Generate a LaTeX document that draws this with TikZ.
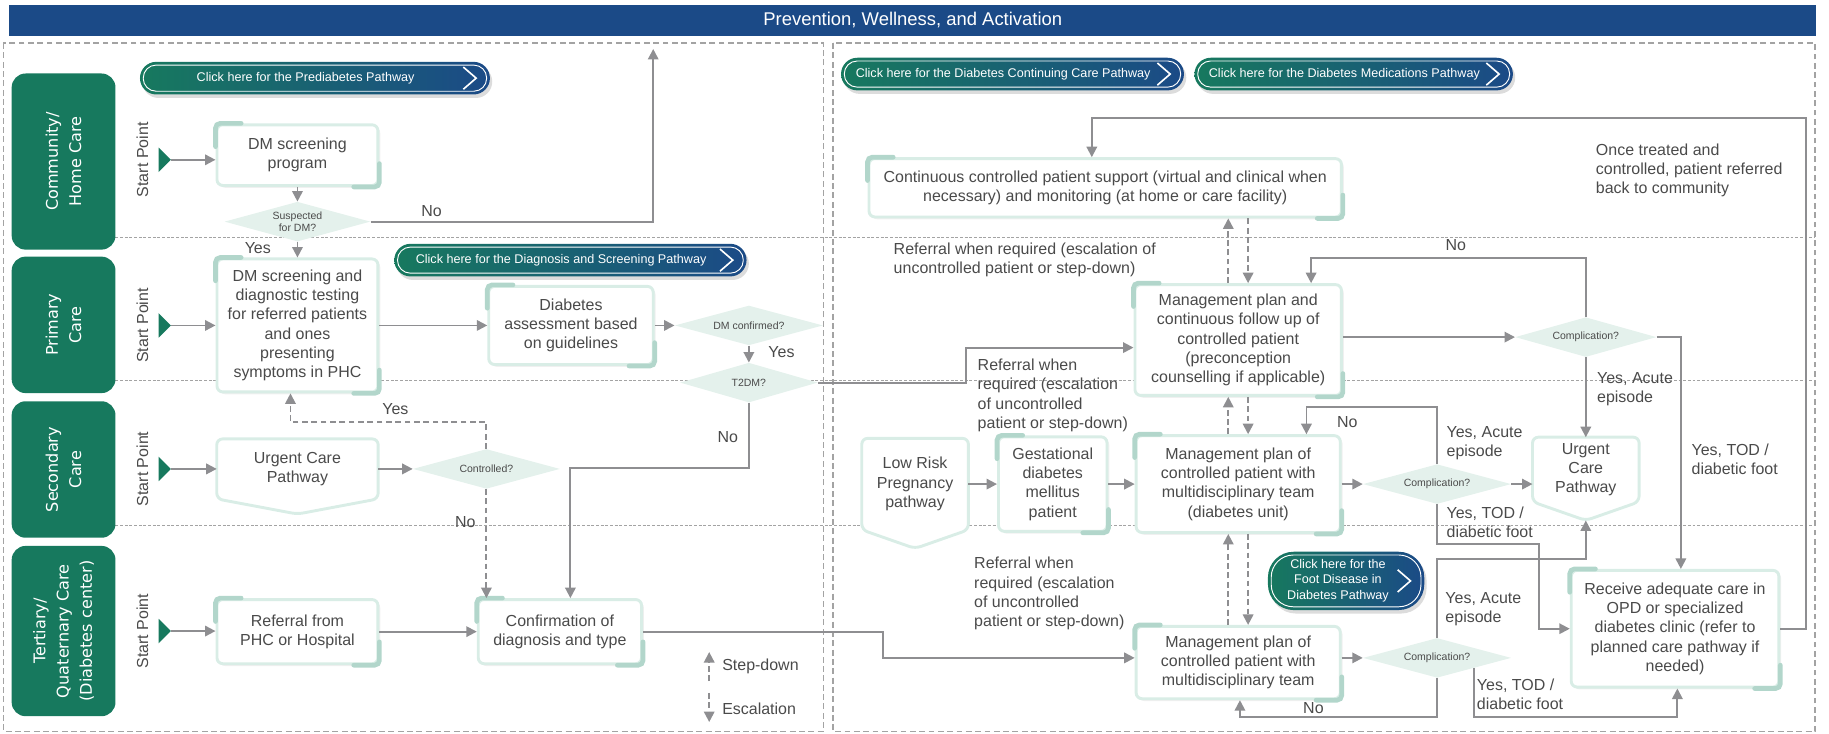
\documentclass[tikz,border=0pt]{standalone}
\usepackage{fontspec}
\setmainfont{Liberation Sans}
\newfontfamily\lanefont{DejaVu Sans}
\usetikzlibrary{shapes.geometric,arrows.meta,shadows}

\definecolor{hdrblue}{HTML}{1B4A87}
\definecolor{lanegreen}{HTML}{17795E}
\definecolor{boxedge}{HTML}{D9EDE6}
\definecolor{bracketc}{HTML}{B2D6CB}
\definecolor{dmfill}{HTML}{E4F1EC}
\definecolor{linegray}{HTML}{8E8E91}
\definecolor{txtgray}{HTML}{4A4A4A}
\definecolor{bordergray}{HTML}{A3A3A3}

\newcommand{\boxfs}{\fontsize{13.7}{16.5}\selectfont}
\newcommand{\btnfs}{\fontsize{10.8}{13}\selectfont}
\newcommand{\dmfs}{\fontsize{9}{10.5}\selectfont}
\newcommand{\lanefs}{\lanefont\fontsize{13.8}{20}\selectfont}
\newcommand{\hdrfs}{\fontsize{15.8}{18}\selectfont}

\tikzset{
  conn/.style={draw=linegray, line width=1.6pt, -{Triangle[length=9pt,width=9pt]}},
  dconn/.style={conn, dash pattern=on 5pt off 3pt},
  lanediv/.style={draw=bordergray, line width=0.8pt, dash pattern=on 2.5pt off 1.5pt},
  panel/.style={draw=bordergray, line width=1.5pt, dash pattern=on 5pt off 3pt},
  hdr/.style={fill=hdrblue, text=white, font=\hdrfs, minimum width=1549pt, minimum height=27pt},
  lane/.style={fill=lanegreen, rounded corners=12pt, rotate=90, text=white, align=center, font=\lanefs, minimum height=89pt, inner sep=0pt},
  startlbl/.style={rotate=90, text=txtgray, font=\boxfs, inner sep=0pt},
  brk/.style={draw=bracketc, line width=4pt, line cap=round, rounded corners=4pt, to path={|- (\tikztotarget)}},
  pbox/.style={draw=boxedge, line width=2.5pt, fill=white, rounded corners=5pt, align=center, text=txtgray, font=\boxfs, inner sep=2pt,
    drop shadow={opacity=0.12, shadow xshift=2pt, shadow yshift=-2pt},
    append after command={
      ([yshift=-20pt]\tikzlastnode.north west) edge[brk] ([xshift=22pt]\tikzlastnode.north west)
      ([yshift=20pt]\tikzlastnode.south east) edge[brk] ([xshift=-22pt]\tikzlastnode.south east)}},
  pent/.style={fill=white, align=center, text=txtgray, font=\boxfs, inner sep=2pt},
  pentline/.style={draw=boxedge, line width=2.5pt, rounded corners=5pt},
  dm/.style={diamond, fill=dmfill, aspect=3.6, inner sep=0pt, align=center, text=txtgray, font=\dmfs, minimum width=125pt, minimum height=34pt},
  lbl/.style={text=txtgray, font=\boxfs, align=left, inner sep=0pt},
  btn/.style={rounded corners=#1, left color=lanegreen, right color=hdrblue, text=white, font=\btnfs, align=center, minimum height=28pt,
    drop shadow={opacity=0.28, shadow xshift=2pt, shadow yshift=-3pt},
    append after command={
      ([shift={(3pt,-3pt)}]\tikzlastnode.north west) edge[draw=white, line width=0.8pt, rounded corners=#1-3pt, to path={rectangle (\tikztotarget)}] ([shift={(-3pt,3pt)}]\tikzlastnode.south east)
      ([shift={(-23pt,9.5pt)}]\tikzlastnode.east) edge[draw=white, line width=1.4pt, to path={-- ++(11pt,-9.5pt) -- (\tikztotarget)}] ([shift={(-23pt,-9.5pt)}]\tikzlastnode.east)}},
  btn/.default=14pt
}

\begin{document}
\begin{tikzpicture}[x=1pt,y=-1pt]
\useasboundingbox (0,0) rectangle (1568,629);

% Header bar
\node[hdr] (head) at (782.5,17.5) {Prevention, Wellness, and Activation};

% Dashed panels and lane dividers
\draw[panel] (3,37) rectangle (706,627);
\draw[panel] (714,37) rectangle (1556,627);
\draw[lanediv] (99,204) -- (1556,204);
\draw[lanediv] (99,326) -- (1556,326);
\draw[lanediv] (99,450.5) -- (1556,450.5);

% Lanes
\node[lane, minimum width=151pt] (laneC) at (54.5,138.5) {Community/\\Home Care};
\node[lane, minimum width=117pt] (laneP) at (54.5,278.5) {Primary\\Care};
\node[lane, minimum width=117pt] (laneS) at (54.5,402.5) {Secondary\\Care};
\node[lane, minimum width=146pt] (laneT) at (54.5,541) {Tertiary/\\Quaternary Care\\(Diabetes center)};

% Start points
\foreach \y/\i in {137/1,279/2,402/3,541/4}{
  \fill[lanegreen] (136,\y-10.5) -- (146.5,\y) -- (136,\y+10.5) -- cycle;
  \coordinate (st\i) at (146.5,\y);
  \node[startlbl] (sp\i) at (122,\y) {Start Point};
}

% Link buttons
\node[btn, minimum width=300pt] (bPre) at (270,67) {Click here for the Prediabetes Pathway\hspace*{16pt}};
\node[btn, minimum width=302pt] (bDiag) at (489,223) {Click here for the Diagnosis and Screening Pathway\hspace*{16pt}};
\node[btn, minimum width=294pt] (bCont) at (868,63.5) {Click here for the Diabetes Continuing Care Pathway\hspace*{16pt}};
\node[btn, minimum width=273pt] (bMed) at (1160.5,63.5) {Click here for the Diabetes Medications Pathway\hspace*{16pt}};
\node[btn=22pt, minimum width=134pt, minimum height=50pt] (bFoot) at (1154,498) {\begin{tabular}{@{}c@{}}Click here for the\\Foot Disease in\\Diabetes Pathway\end{tabular}\hspace*{14pt}};

% Left panel boxes
\node[pbox, minimum width=138pt, minimum height=52pt] (scr) at (255,133) {DM screening\\program};
\node[dm] (susp) at (255,190) {Suspected\\for DM?};
\node[pbox, minimum width=138pt, minimum height=114pt] (diag) at (255,279) {DM screening and\\diagnostic testing\\for referred patients\\and ones\\presenting\\symptoms in PHC};
\node[pbox, minimum width=141pt, minimum height=67pt] (assess) at (489.5,279) {Diabetes\\assessment based\\on guidelines};
\node[dm, minimum width=127pt] (dmc) at (642,279) {DM confirmed?};
\node[dm, minimum width=118pt] (t2dm) at (642,328) {T2DM?};
\node[pent, minimum width=138pt, minimum height=51pt] (urgL) at (255,402) {Urgent Care\\Pathway};
\draw[pentline] (urgL.south west) |- (urgL.north east) -- (urgL.south east) -- ([yshift=-13pt]urgL.south) -- cycle;
\node[dm, minimum width=126pt] (ctrl) at (417,402) {Controlled?};
\node[pbox, minimum width=138pt, minimum height=55pt] (refer) at (255,541.5) {Referral from\\PHC or Hospital};
\node[pbox, minimum width=140pt, minimum height=55pt] (conf) at (480,541.5) {Confirmation of\\diagnosis and type};

% Right panel boxes
\node[pbox, minimum width=405pt, minimum height=50pt] (cont) at (947.5,161) {Continuous controlled patient support (virtual and clinical when\\necessary) and monitoring (at home or care facility)};
\node[pbox, minimum width=177pt, minimum height=95pt] (mgmtP) at (1061.5,291.5) {Management plan and\\continuous follow up of\\controlled patient\\(preconception\\counselling if applicable)};
\node[dm, minimum width=121pt] (compP) at (1359.5,289) {Complication?};
\node[pent, minimum width=91pt, minimum height=78pt] (lowrisk) at (784.5,415) {Low Risk\\Pregnancy\\pathway};
\draw[pentline] (lowrisk.south west) |- (lowrisk.north east) -- (lowrisk.south east) -- ([yshift=-16pt]lowrisk.south) -- cycle;
\node[pbox, minimum width=93pt, minimum height=81pt] (gest) at (902.5,415) {Gestational\\diabetes\\mellitus\\patient};
\node[pbox, minimum width=175pt, minimum height=83pt] (mgmtS) at (1061.5,415) {Management plan of\\controlled patient with\\multidisciplinary team\\(diabetes unit)};
\node[dm, minimum width=127pt] (compS) at (1232,415) {Complication?};
\node[pent, minimum width=91pt, minimum height=55pt] (urgR) at (1359.5,402.5) {Urgent\\Care\\Pathway};
\draw[pentline] (urgR.south west) |- (urgR.north east) -- (urgR.south east) -- ([yshift=-16pt]urgR.south) -- cycle;
\coordinate (urgRtip) at ([yshift=-16pt]urgR.south);
\node[pbox, minimum width=175pt, minimum height=62pt] (mgmtT) at (1061.5,568) {Management plan of\\controlled patient with\\multidisciplinary team};
\node[dm, minimum width=127pt] (compT) at (1232,564) {Complication?};
\node[pbox, minimum width=178pt, minimum height=100pt] (recv) at (1436,539) {Receive adequate care in\\OPD or specialized\\diabetes clinic (refer to\\planned care pathway if\\needed)};

% Left panel connectors
\draw[conn] (st1) -- (st1 -| scr.west);
\draw[conn] (scr.south) -- (susp.north);
\coordinate (prevtop) at (560,42);
\draw[conn] (susp.east) -| (prevtop);
\draw[conn] (susp.south) -- (diag.north);
\draw[conn] (st2) -- (st2 -| diag.west);
\draw[conn] (diag.east) -- (assess.west);
\draw[conn] (assess.east) -- (dmc.west);
\draw[conn] (dmc.south) -- (t2dm.north);
\coordinate (noD) at (489,401);
\draw[conn] (t2dm.south) |- (noD) -- (noD |- conf.north);
\draw[conn] (st3) -- (st3 -| urgL.west);
\draw[conn] (urgL.east) -- (ctrl.west);
\coordinate (yesC) at (249,362);
\draw[dconn] (ctrl.north) |- (yesC) -- (yesC |- diag.south);
\draw[dconn] (ctrl.south) -- (ctrl.south |- conf.north);
\draw[conn] (st4) -- (st4 -| refer.west);
\draw[conn] (refer.east) -- (conf.west);

% Cross-panel connectors
\coordinate (refP) at (828,298);
\draw[conn] (t2dm.east) -| (refP) -- (refP -| mgmtP.west);
\coordinate (tq) at (757,564);
\draw[conn] (conf.east) -| (tq) -- (tq -| mgmtT.west);

% Right panel connectors
\coordinate (rtop) at (1548,101);
\coordinate (ltop) at (936,101);
\draw[conn] (recv.east) -| (rtop) -- (ltop) -- (ltop |- cont.north);
\coordinate (xu) at (1053,0);
\coordinate (xd) at (1070,0);
\draw[dconn] (xu |- mgmtP.north) -- (xu |- cont.south);
\draw[dconn] (xd |- cont.south) -- (xd |- mgmtP.north);
\draw[dconn] (xu |- mgmtS.north) -- (xu |- mgmtP.south);
\draw[dconn] (xd |- mgmtP.south) -- (xd |- mgmtS.north);
\draw[dconn] (xu |- mgmtT.north) -- (xu |- mgmtS.south);
\draw[dconn] (xd |- mgmtS.south) -- (xd |- mgmtT.north);
\draw[conn] (mgmtP.east |- compP.west) -- (compP.west);
\coordinate (noP) at (1124,221);
\draw[conn] (compP.north) |- (noP) -- (noP |- mgmtP.north);
\draw[conn] (compP.south) -- (urgR.north);
\coordinate (xt) at (1441,0);
\draw[conn] (compP.east) -| (xt |- recv.north);
\draw[conn] (lowrisk.east) -- (gest.west);
\draw[conn] (gest.east) -- (mgmtS.west);
\draw[conn] (mgmtS.east) -- (compS.west);
\draw[conn] (compS.east) -- (compS.east -| urgR.west);
\coordinate (noS) at (1120,349);
\draw[conn] (compS.north) |- (noS) -- (noS |- mgmtS.north);
\coordinate (todS) at (1319,466);
\draw[conn] (compS.south) |- (todS) |- (recv.west);
\draw[conn] (mgmtT.east |- compT.west) -- (compT.west);
\draw[conn] (compT.north) |- ([yshift=-33pt]urgRtip) -- (urgRtip);
\coordinate (noT) at (1063,615);
\draw[conn] (compT.south) |- (noT) -- (noT |- mgmtT.south);
\coordinate (todT) at (1438,615);
\draw[conn] (compT.south east) |- (todT) -- (todT |- recv.south);

% Label the branches
\node[lbl] (lNo1) at (370,181) {No};
\node[lbl] (lYes1) at (221,213) {Yes};
\node[lbl] (lYes2) at (670,302) {Yes};
\node[lbl] (lNo2) at (624,375) {No};
\node[lbl] (lYes3) at (339,351) {Yes};
\node[lbl] (lNo3) at (399,448) {No};
\node[lbl] (lNo4) at (1248,210) {No};
\node[lbl] (lNo5) at (1155,362) {No};
\node[lbl] (lNo6) at (1126,607) {No};
\node[lbl, anchor=west] (lRef1) at (838,339) {Referral when\\required (escalation\\of uncontrolled\\patient or step-down)};
\node[lbl, anchor=west] (lRef2) at (766,222.5) {Referral when required (escalation of\\uncontrolled patient or step-down)};
\node[lbl, anchor=west] (lRef3) at (835,509) {Referral when\\required (escalation\\of uncontrolled\\patient or step-down)};
\node[lbl, anchor=west] (lOnce) at (1368,146) {Once treated and\\controlled, patient referred\\back to community};
\node[lbl, anchor=west] (lAcP) at (1369,333.5) {Yes, Acute\\episode};
\node[lbl, anchor=west] (lTodP) at (1450,394) {Yes, TOD /\\diabetic foot};
\node[lbl, anchor=west] (lAcS) at (1240,380) {Yes, Acute\\episode};
\node[lbl, anchor=west] (lTodS) at (1240,448) {Yes, TOD /\\diabetic foot};
\node[lbl, anchor=west] (lAcT) at (1239,522.5) {Yes, Acute\\episode};
\node[lbl, anchor=west] (lTodT) at (1266,595.5) {Yes, TOD /\\diabetic foot};

% Legend
\coordinate (sdA) at (608,584);
\coordinate (sdB) at (608,559);
\draw[dconn] (sdA) -- (sdB);
\node[lbl, anchor=west] (lStep) at (619,571) {Step-down};
\coordinate (esA) at (608,594);
\coordinate (esB) at (608,619);
\draw[dconn] (esA) -- (esB);
\node[lbl, anchor=west] (lEsc) at (619,608) {Escalation};
\end{tikzpicture}
\end{document}
